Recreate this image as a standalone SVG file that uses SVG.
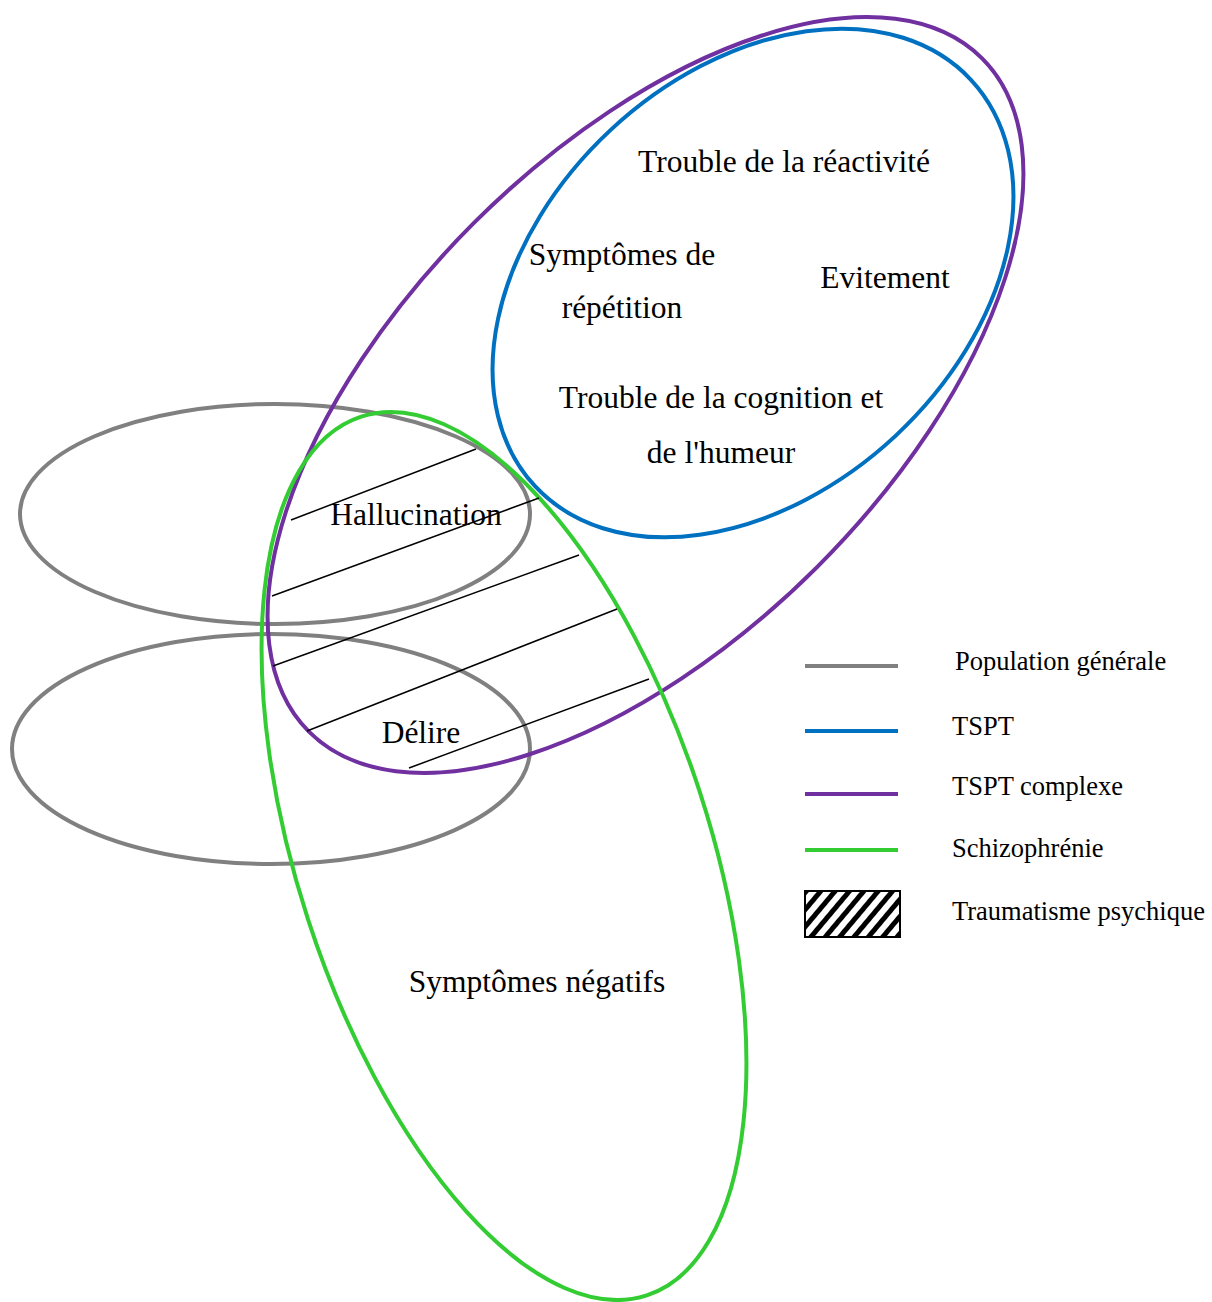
<svg xmlns="http://www.w3.org/2000/svg" width="1212" height="1302" viewBox="0 0 1212 1302">
<defs>
<style>
.e{fill:none;stroke-width:4}
.gray{stroke:#808080}
.blue{stroke:#0070C0}
.purple{stroke:#7030A0}
.green{stroke:#33CC33}
.h{stroke:#000;stroke-width:1.5}
.t{font-family:"Liberation Serif","Times New Roman",serif;font-size:31.5px;fill:#000;text-anchor:middle}
.l{font-family:"Liberation Serif","Times New Roman",serif;font-size:26.5px;fill:#000}
</style>
<pattern id="hatch" patternUnits="userSpaceOnUse" width="11" height="11" patternTransform="rotate(40)">
<rect x="0" y="0" width="5" height="11" fill="#000"/>
</pattern>
</defs>
<rect width="1212" height="1302" fill="#fff"/>
<g id="population1"><ellipse class="e gray" cx="275" cy="514" rx="255" ry="110"/></g>
<g id="population2"><ellipse class="e gray" cx="271" cy="749" rx="259" ry="115"/></g>
<g id="tspt-complexe"><ellipse class="e purple" cx="0" cy="0" rx="476" ry="243" transform="translate(645.5 395) rotate(-45)"/></g>
<g id="tspt"><ellipse class="e blue" cx="0" cy="0" rx="298" ry="209" transform="translate(753 283) rotate(-43)"/></g>
<g id="schizophrenie"><ellipse class="e green" cx="0" cy="0" rx="206" ry="462" transform="translate(504 856) rotate(-18)"/></g>
<g id="traumatisme">
<line class="h" x1="291" y1="520" x2="476" y2="449"/>
<line class="h" x1="272" y1="596" x2="539" y2="498"/>
<line class="h" x1="273" y1="666" x2="579" y2="555"/>
<line class="h" x1="307" y1="731" x2="617" y2="609"/>
<line class="h" x1="409" y1="768" x2="649" y2="679"/>
</g>
<g id="labels">
<text class="t" x="784" y="172">Trouble de la réactivité</text>
<text class="t" x="622" y="265">Symptômes de</text>
<text class="t" x="622" y="318">répétition</text>
<text class="t" x="885" y="288">Evitement</text>
<text class="t" x="721" y="408">Trouble de la cognition et</text>
<text class="t" x="721" y="463">de l'humeur</text>
<text class="t" x="416" y="525">Hallucination</text>
<text class="t" x="421" y="743">Délire</text>
<text class="t" x="537" y="992">Symptômes négatifs</text>
</g>
<g id="legend">
<line class="e gray" x1="805" y1="666" x2="898" y2="666"/>
<line class="e blue" x1="805" y1="731" x2="898" y2="731"/>
<line class="e purple" x1="805" y1="794" x2="898" y2="794"/>
<line class="e green" x1="805" y1="850" x2="898" y2="850"/>
<rect x="805" y="891" width="95" height="46" fill="url(#hatch)" stroke="#000" stroke-width="2"/>
<text class="l" x="955" y="670">Population générale</text>
<text class="l" x="952" y="735">TSPT</text>
<text class="l" x="952" y="795">TSPT complexe</text>
<text class="l" x="952" y="857">Schizophrénie</text>
<text class="l" x="952" y="920">Traumatisme psychique</text>
</g>
</svg>
